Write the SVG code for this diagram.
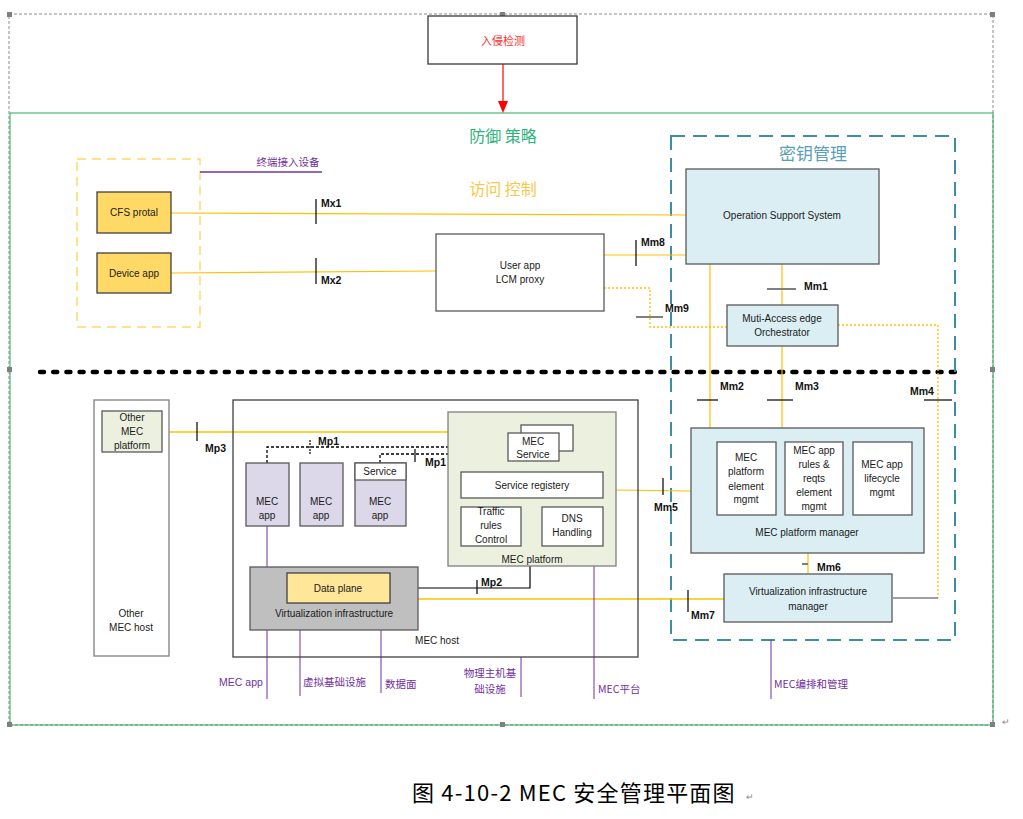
<svg xmlns="http://www.w3.org/2000/svg" width="1023" height="819" viewBox="0 0 1023 819">
<style>
text{font-family:"Liberation Sans","Noto Sans CJK SC",sans-serif;font-size:10px;fill:#1a1a1a;text-anchor:middle}
.cn{font-family:"Noto Sans CJK SC",sans-serif}
.lbl{font-weight:bold;font-size:10.5px;text-anchor:start;fill:#111}
.pl{fill:#7030a0;font-size:10.5px}
.y{stroke:#ffc000;stroke-width:1.2;fill:none}
.yd{stroke:#ffc000;stroke-width:1.3;fill:none;stroke-dasharray:2 2}
.pu{stroke:#7030a0;stroke-width:1;fill:none}
.tk{stroke:#000;stroke-width:1.2}
.tg{stroke:#7f7f7f;stroke-width:2}
.h{fill:#7f7f7f}
.blue{fill:#dbeef4;stroke:#595959;stroke-width:1.3}
.wb{fill:#fff;stroke:#595959;stroke-width:1.3}
.app{fill:#dcd8ea;stroke:#595959;stroke-width:1.3}
</style>
<rect width="1023" height="819" fill="#fff"/>
<!-- frames -->
<g id="frames">
<rect x="9" y="14" width="984" height="711" fill="none" stroke="#8c8c8c" stroke-dasharray="3 2" stroke-width="1"/>
<rect x="10" y="113" width="983" height="612" fill="none" stroke="#2aa95a" stroke-width="1"/>
<rect x="7" y="12" width="5" height="5" class="h"/><rect x="500" y="12" width="5" height="5" class="h"/><rect x="990" y="12" width="5" height="5" class="h"/>
<rect x="7" y="367" width="5" height="5" class="h"/><rect x="990" y="367" width="5" height="5" class="h"/>
<rect x="7" y="722" width="5" height="5" class="h"/><rect x="500" y="722" width="5" height="5" class="h"/><rect x="990" y="722" width="5" height="5" class="h"/>
<text x="1006" y="725" style="font-size:9px;fill:#888">↵</text>
</g>
<g id="intrusion">
<rect x="428" y="16" width="149" height="48" fill="#fff" stroke="#3a3a3a" stroke-width="1.3"/>
<text x="503" y="45" class="cn" style="fill:#ff2a2a;font-size:11px">入侵检测</text>
</g>
<g id="titles">
<text x="503" y="142" class="cn" style="fill:#2db37a;font-size:16px">防御 策略</text>
<text x="503" y="195" class="cn" style="fill:#f7c948;font-size:16px">访问 控制</text>
<text x="813" y="160" class="cn" style="fill:#5aa0b5;font-size:17px">密钥管理</text>
</g>
<!-- dotted separator -->
<line x1="40" y1="372" x2="955" y2="372" stroke="#000" stroke-width="4.5" stroke-linecap="round" stroke-dasharray="4 9.2"/>
<g id="keymgmt">
<rect x="671" y="136" width="284" height="504" fill="none" stroke="#3c8ea5" stroke-width="2" stroke-dasharray="14 8"/>
</g>
<g id="terminal">
<rect x="77" y="159" width="123" height="168" fill="none" stroke="#ffd966" stroke-width="1.5" stroke-dasharray="9 6"/>
</g>
<!-- connectors -->
<g id="connectors">
<line x1="200" y1="172" x2="322" y2="172" class="pu" style="stroke-width:1.5"/>
<path d="M171 213 L686 215" class="y"/>
<path d="M171 273 L436 271" class="y"/>
<path d="M604 255 L686 255" class="y"/>
<path d="M604 288 H650 V327 H727" class="yd"/>
<path d="M782 264 V305" class="y"/>
<path d="M710 264 V428" class="y"/>
<path d="M782 346 V428" class="y"/>
<path d="M838 325 H938 V598" class="yd"/>
<path d="M938 598 H893" stroke="#404040" stroke-width="1.2" fill="none"/>
<path d="M808 553 V574" class="y"/>
<path d="M616 490 L691 491" class="y"/>
<path d="M418 599 H724" class="y" style="stroke-width:1.5"/>
<path d="M162 432 H448" class="y" style="stroke-width:1.5"/>
<path d="M390 588 H530 V566" stroke="#000" stroke-width="1.2" fill="none"/>
<path d="M267 463 V447 H448" stroke="#000" stroke-width="1.3" stroke-dasharray="3 2" fill="none"/>
<path d="M380 463 V454 H448" stroke="#000" stroke-width="1.3" stroke-dasharray="3 2" fill="none"/>
<!-- ticks -->
<line x1="316" y1="199" x2="316" y2="224" class="tk"/>
<line x1="316" y1="258" x2="316" y2="284" class="tk"/>
<line x1="636" y1="240" x2="636" y2="266" class="tk"/>
<line x1="636" y1="317" x2="663" y2="317" class="tg"/>
<line x1="767" y1="289" x2="796" y2="289" class="tg"/>
<line x1="697" y1="400" x2="718" y2="400" class="tk"/>
<line x1="767" y1="400" x2="793" y2="400" class="tk"/>
<line x1="924" y1="400" x2="952" y2="400" class="tk"/>
<line x1="197" y1="422" x2="197" y2="441" class="tk"/>
<line x1="310" y1="440" x2="310" y2="455" stroke="#000" stroke-width="1.2" stroke-dasharray="2 1"/>
<line x1="415" y1="449" x2="415" y2="462" class="tk"/>
<line x1="663" y1="478" x2="663" y2="495" class="tk"/>
<line x1="477" y1="580" x2="477" y2="594" class="tk"/>
<line x1="688" y1="590" x2="688" y2="612" class="tk"/>
<line x1="802" y1="564" x2="808" y2="564" class="tg"/>
<!-- purple labels lines -->
<line x1="267" y1="526" x2="267" y2="699" class="pu"/>
<line x1="300" y1="630" x2="300" y2="696" class="pu"/>
<line x1="381" y1="603" x2="381" y2="693" class="pu"/>
<line x1="521" y1="657" x2="521" y2="697" class="pu"/>
<line x1="594" y1="566" x2="594" y2="699" class="pu"/>
<line x1="771" y1="640" x2="771" y2="699" class="pu"/>
<!-- arrow -->
<line x1="503" y1="64" x2="503" y2="103" stroke="#ff0000" stroke-width="1.2"/>
<path d="M498 101 L508 101 L503 113 Z" fill="#ff0000"/>
</g>
<g id="labels">
<text x="288" y="166" class="cn pl">终端接入设备</text>
<text x="321" y="207" class="lbl">Mx1</text>
<text x="321" y="284" class="lbl">Mx2</text>
<text x="641" y="246" class="lbl">Mm8</text>
<text x="665" y="312" class="lbl">Mm9</text>
<text x="804" y="290" class="lbl">Mm1</text>
<text x="720" y="390" class="lbl">Mm2</text>
<text x="795" y="390" class="lbl">Mm3</text>
<text x="910" y="395" class="lbl">Mm4</text>
<text x="205" y="452" class="lbl">Mp3</text>
<text x="318" y="445" class="lbl">Mp1</text>
<text x="425" y="466" class="lbl">Mp1</text>
<text x="481" y="586" class="lbl">Mp2</text>
<text x="654" y="511" class="lbl">Mm5</text>
<text x="817" y="571" class="lbl">Mm6</text>
<text x="691" y="619" class="lbl">Mm7</text>
<text x="241" y="686" class="pl">MEC app</text>
<text x="303" y="686" class="cn pl" style="text-anchor:start">虚拟基础设施</text>
<text x="385" y="688" class="cn pl" style="text-anchor:start">数据面</text>
<text x="490" y="677" class="cn pl">物理主机基</text>
<text x="490" y="693" class="cn pl">础设施</text>
<text x="598" y="693" class="cn pl" style="text-anchor:start">MEC平台</text>
<text x="774" y="688" class="cn pl" style="text-anchor:start">MEC编排和管理</text>
</g>
<g id="cfs">
<rect x="97" y="192" width="74" height="41" fill="#ffd966" stroke="#404040" stroke-width="1.3"/>
<text x="134" y="216">CFS protal</text>
</g>
<g id="device-app">
<rect x="97" y="253" width="74" height="40" fill="#ffd966" stroke="#404040" stroke-width="1.3"/>
<text x="134" y="277">Device app</text>
</g>
<g id="user-app">
<rect x="436" y="234" width="168" height="77" class="wb"/>
<text x="520" y="269">User app</text>
<text x="520" y="283">LCM proxy</text>
</g>
<g id="oss">
<rect x="686" y="169" width="193" height="95" class="blue"/>
<text x="782" y="219">Operation Support System</text>
</g>
<g id="mao">
<rect x="727" y="305" width="111" height="41" class="blue"/>
<text x="782" y="322">Muti-Access edge</text>
<text x="782" y="336">Orchestrator</text>
</g>
<g id="other-mec-host">
<rect x="94" y="400" width="75" height="256" class="wb" style="stroke:#7f7f7f"/>
<text x="131" y="617">Other</text>
<text x="131" y="631">MEC host</text>
</g>
<g id="other-mec-platform">
<rect x="102" y="411" width="60" height="41" fill="#ebf1de" stroke="#595959" stroke-width="1.3"/>
<text x="132" y="421">Other</text>
<text x="132" y="435">MEC</text>
<text x="132" y="449">platform</text>
</g>
<g id="mec-host">
<rect x="233" y="400" width="405" height="257" fill="none" stroke="#404040" stroke-width="1.3"/>
<text x="437" y="644">MEC host</text>
</g>
<g id="mec-platform">
<rect x="448" y="412" width="168" height="154" fill="#ebf1de" stroke="#7f7f7f" stroke-width="1.3"/>
<text x="532" y="563">MEC platform</text>
<rect x="521" y="425" width="52" height="26" class="wb"/>
<rect x="508" y="433" width="51" height="28" class="wb"/>
<text x="533" y="445">MEC</text>
<text x="533" y="458">Service</text>
<rect x="461" y="472" width="142" height="26" class="wb"/>
<text x="532" y="489">Service registery</text>
<rect x="461" y="507" width="60" height="39" class="wb"/>
<text x="491" y="515">Traffic</text>
<text x="491" y="529">rules</text>
<text x="491" y="543">Control</text>
<rect x="542" y="507" width="61" height="39" class="wb"/>
<text x="572" y="522">DNS</text>
<text x="572" y="536">Handling</text>
</g>
<g id="mec-app-1">
<rect x="246" y="463" width="43" height="63" class="app"/>
<text x="267" y="505">MEC</text>
<text x="267" y="519">app</text>
</g>
<g id="mec-app-2">
<rect x="300" y="463" width="43" height="63" class="app"/>
<text x="321" y="505">MEC</text>
<text x="321" y="519">app</text>
</g>
<g id="mec-app-3">
<rect x="355" y="463" width="51" height="63" class="app"/>
<rect x="355" y="463" width="51" height="17" class="wb"/>
<text x="380" y="475">Service</text>
<text x="380" y="505">MEC</text>
<text x="380" y="519">app</text>
</g>
<g id="virt-infra">
<rect x="250" y="567" width="168" height="63" fill="#bfbfbf" stroke="#595959" stroke-width="1.3"/>
<text x="334" y="617">Virtualization infrastructure</text>
</g>
<g id="data-plane">
<rect x="287" y="573" width="103" height="30" fill="#ffe699" stroke="#404040" stroke-width="1.3"/>
<text x="338" y="592">Data plane</text>
</g>
<g id="mec-platform-manager">
<rect x="691" y="428" width="233" height="125" class="blue"/>
<text x="807" y="536">MEC platform manager</text>
<rect x="717" y="442" width="59" height="73" class="wb"/>
<text x="746" y="461">MEC</text>
<text x="746" y="475">platform</text>
<text x="746" y="490">element</text>
<text x="746" y="503">mgmt</text>
<rect x="785" y="442" width="58" height="73" class="wb"/>
<text x="814" y="454">MEC app</text>
<text x="814" y="468">rules &amp;</text>
<text x="814" y="482">reqts</text>
<text x="814" y="496">element</text>
<text x="814" y="510">mgmt</text>
<rect x="853" y="442" width="59" height="73" class="wb"/>
<text x="882" y="468">MEC app</text>
<text x="882" y="482">lifecycle</text>
<text x="882" y="496">mgmt</text>
</g>
<g id="vim">
<rect x="724" y="574" width="168" height="48" class="blue"/>
<text x="808" y="595">Virtualization infrastructure</text>
<text x="808" y="610">manager</text>
</g>
<g id="caption">
<text x="412" y="801" class="cn" style="font-size:22px;fill:#000;text-anchor:start;letter-spacing:1.2px">图 4-10-2 MEC 安全管理平面图</text>
<text x="750" y="800" style="font-size:9px;fill:#888">↵</text>
</g>
</svg>
